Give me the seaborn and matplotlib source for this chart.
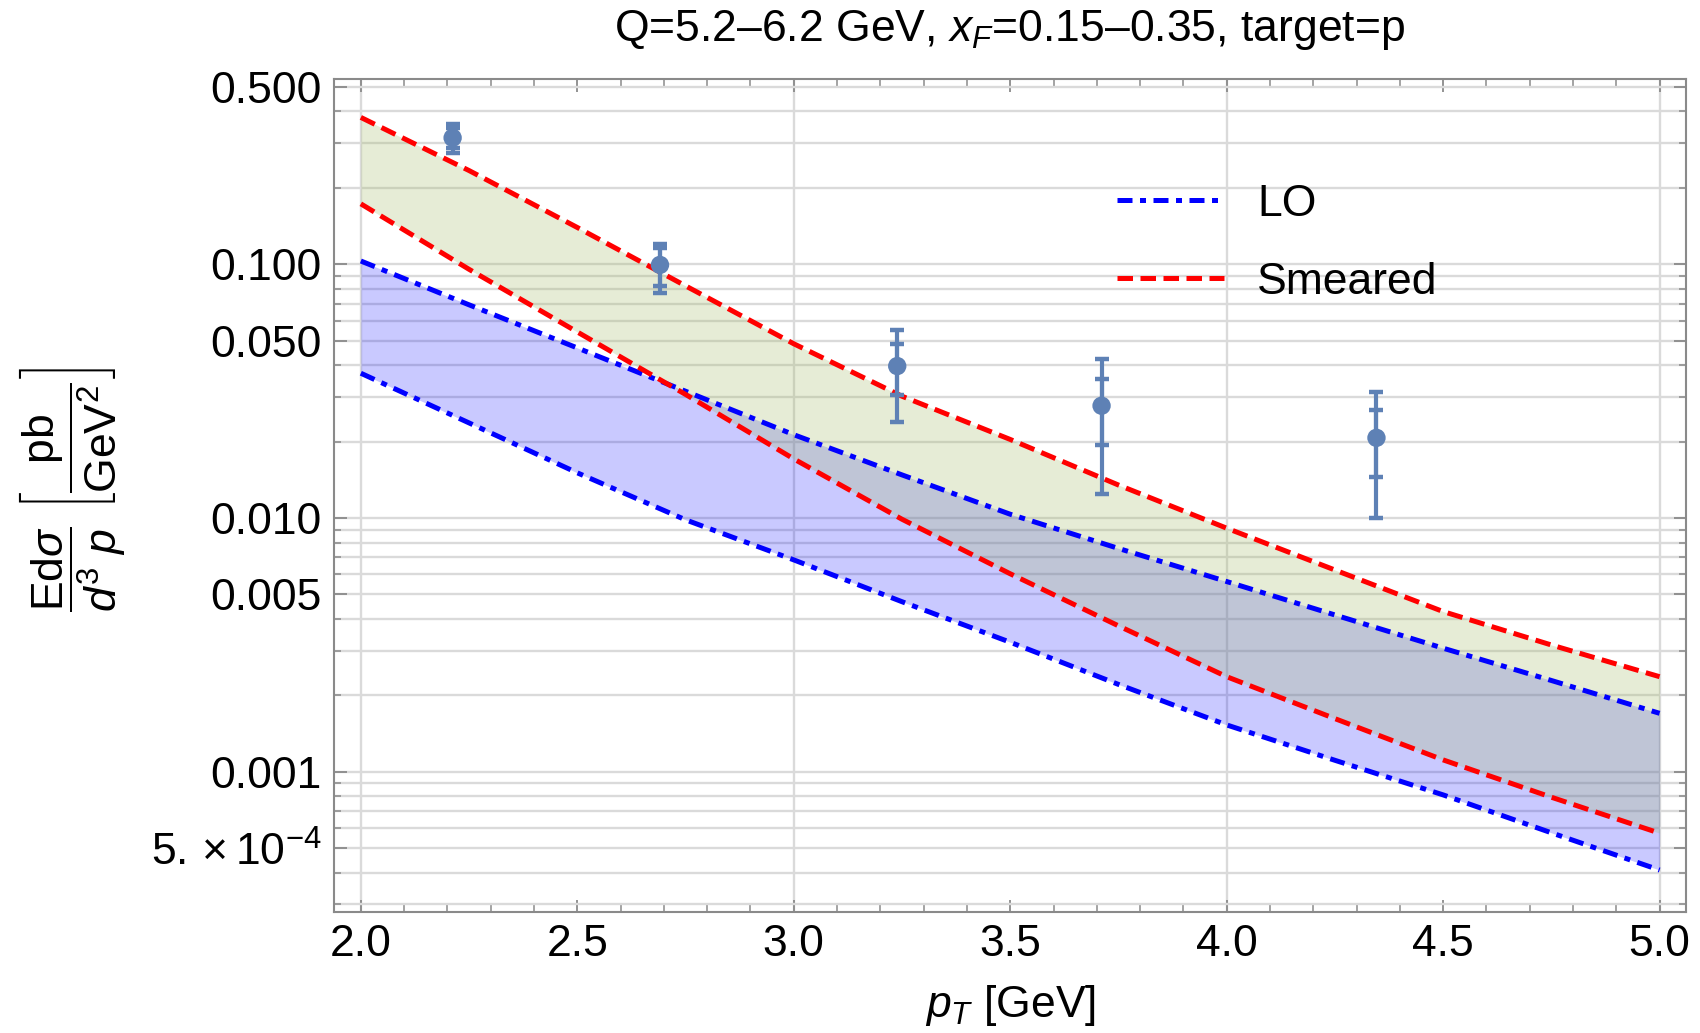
import numpy as np
import pandas as pd
import matplotlib
matplotlib.use("Agg")
import matplotlib.pyplot as plt
import seaborn as sns
from matplotlib.ticker import FixedLocator, MultipleLocator, FormatStrFormatter, NullFormatter
from matplotlib.lines import Line2D

# ---------------- data ----------------
pt = [2.0, 2.25, 2.5, 2.75, 3.0, 3.25, 3.5, 3.75, 4.0, 4.25, 4.5, 4.75, 5.0]
lo_upper = [0.1030, 0.0692, 0.0468, 0.0316, 0.0213, 0.01479, 0.01035, 0.00759,
            0.00562, 0.00415, 0.00307, 0.00229, 0.00170]
lo_lower = [0.0372, 0.0237, 0.01507, 0.00984, 0.00684, 0.00468, 0.00324, 0.00221,
            0.00153, 0.00111, 0.000811, 0.000575, 0.000410]
sm_upper = [0.379, 0.234, 0.1396, 0.0822, 0.0486, 0.0302, 0.0204, 0.01349,
            0.00912, 0.00624, 0.00428, 0.00316, 0.00237]
sm_lower = [0.173, 0.0955, 0.0541, 0.0307, 0.0171, 0.00989, 0.00603, 0.00376,
            0.00237, 0.00162, 0.001114, 0.000794, 0.000573]

data_pt = [2.212, 2.691, 3.239, 3.711, 4.346]
data_val = [0.315, 0.0994, 0.0397, 0.0277, 0.0207]
tot_hi = [0.356, 0.120, 0.0551, 0.0422, 0.0313]
tot_lo = [0.2735, 0.0773, 0.0240, 0.01245, 0.00998]
stat_hi = [0.343, 0.1156, 0.0484, 0.0353, 0.0267]
stat_lo = [0.286, 0.0821, 0.0305, 0.0194, 0.01455]

ytick_vals = [5e-4, 1e-3, 5e-3, 1e-2, 5e-2, 1e-1, 5e-1]
ytick_labels = [r"5.$\,\times$10$^{-4}$", "0.001", "0.005", "0.010", "0.050", "0.100", "0.500"]
xgrid_vals = [2.0, 3.0, 4.0, 5.0]

title = "Q=5.2\u20136.2 GeV, $x_F$=0.15\u20130.35, target=p"
xlabel = "$p_T$ [GeV]"
ylabel = r"$\dfrac{\mathrm{Ed}\sigma}{d^{3}\ p}\ \left[\dfrac{\mathrm{pb}}{\mathrm{GeV}^{2}}\right]$"

# ---------------- style ----------------
sns.set_style("ticks")
plt.rcParams["font.family"] = ["Liberation Sans", "DejaVu Sans"]
plt.rcParams["mathtext.fontset"] = "custom"
plt.rcParams["mathtext.rm"] = "Liberation Sans"
plt.rcParams["mathtext.it"] = "Liberation Sans:italic"
plt.rcParams["mathtext.bf"] = "Liberation Sans:bold"
plt.rcParams["mathtext.sf"] = "Liberation Sans"
plt.rcParams["text.color"] = "black"
plt.rcParams["axes.labelcolor"] = "black"
plt.rcParams["xtick.labelcolor"] = "black"
plt.rcParams["ytick.labelcolor"] = "black"

FS = 32
W, H = 1700, 1033
fig = plt.figure(figsize=(W / 100, H / 100), dpi=100)
ax_l, ax_r, ax_t, ax_b = 334, 1686, 79, 911.7
ax = fig.add_axes([ax_l / W, 1 - ax_b / H, (ax_r - ax_l) / W, (ax_b - ax_t) / H])

curves = pd.DataFrame({"pT": pt, "lo_upper": lo_upper, "lo_lower": lo_lower,
                       "sm_upper": sm_upper, "sm_lower": sm_lower})

grid_col = "#DADADA"
ax.set_axisbelow(True)
for xv in xgrid_vals:
    ax.axvline(xv, color=grid_col, lw=1.7, zorder=0.5)

ax.fill_between(curves["pT"], curves["lo_lower"], curves["lo_upper"],
                color=(0, 0, 1), alpha=0.21, lw=0, zorder=1)
ax.fill_between(curves["pT"], curves["sm_lower"], curves["sm_upper"],
                color=(165 / 255, 187 / 255, 106 / 255), alpha=0.27, lw=0, zorder=1.1)

lw = 3.6
dashdot = (0, (3.0, 1.5, 1.2, 1.5))
dashed = (0, (3.1, 1.5))
for col, c, ls, z in [("lo_upper", "#0000FF", dashdot, 3), ("lo_lower", "#0000FF", dashdot, 3),
                      ("sm_upper", "#FF0000", dashed, 4), ("sm_lower", "#FF0000", dashed, 4)]:
    sns.lineplot(data=curves, x="pT", y=col, color=c, lw=lw, ax=ax, zorder=z, legend=False)
    ax.lines[-1].set_linestyle(ls)

pc = "#5E81B5"
dp = pd.DataFrame({"pT": data_pt, "val": data_val})
ax.errorbar(data_pt, data_val,
            yerr=[np.array(data_val) - np.array(tot_lo), np.array(tot_hi) - np.array(data_val)],
            fmt="none", ecolor=pc, elinewidth=3.0, capsize=5, capthick=3.2, zorder=5)
ax.errorbar(data_pt, data_val,
            yerr=[np.array(data_val) - np.array(stat_lo), np.array(stat_hi) - np.array(data_val)],
            fmt="none", ecolor=pc, elinewidth=3.0, capsize=5, capthick=3.2, zorder=5)
sns.scatterplot(data=dp, x="pT", y="val", color=pc, s=175, edgecolor="none", ax=ax, zorder=6, legend=False)

ax.set_yscale("log")
ax.set_xlim(1.938, 5.061)
ax.set_ylim(2.81e-4, 0.537)

ax.xaxis.set_major_locator(MultipleLocator(0.5))
ax.xaxis.set_minor_locator(MultipleLocator(0.1))
ax.xaxis.set_major_formatter(FormatStrFormatter("%.1f"))

minor = []
for e in range(-4, 0):
    for k in range(1, 10):
        v = k * 10.0 ** e
        if 2.81e-4 <= v <= 0.537 and not any(abs(v - m) / m < 1e-6 for m in ytick_vals):
            minor.append(v)
ax.yaxis.set_major_locator(FixedLocator(ytick_vals))
ax.yaxis.set_minor_locator(FixedLocator(minor))
ax.set_yticklabels(ytick_labels)
ax.yaxis.set_minor_formatter(NullFormatter())
ax.grid(axis="y", which="both", color=grid_col, lw=1.7)
ax.grid(axis="x", which="both", visible=False)

spine_col = "#8A8A8A"
for s in ax.spines.values():
    s.set_color(spine_col)
    s.set_linewidth(1.5)
ax.tick_params(which="both", direction="in", top=True, right=True, color=spine_col,
               labelsize=FS, labelcolor="black")
ax.tick_params(which="major", length=9, width=1.3, pad=9)
ax.tick_params(which="minor", length=5, width=1.1)

ax.set_xlabel(xlabel, fontsize=FS, color="black")
ax.xaxis.set_label_coords(0.5, (ax_b - 1006) / (ax_b - ax_t))
ax.xaxis.label.set_va("center")
ax.set_ylabel(ylabel, fontsize=FS, color="black")
ax.yaxis.label.set(rotation_mode="default", va="center", ha="center")
ax.yaxis.set_label_coords((72 - ax_l) / (ax_r - ax_l), (ax_b - 490) / (ax_b - ax_t))
ax.set_title(title, fontsize=FS, y=(ax_b - 30) / (ax_b - ax_t), va="center", pad=0, color="black")

handles = [Line2D([], [], color="#0000FF", lw=lw, ls=dashdot),
           Line2D([], [], color="#FF0000", lw=lw, ls=dashed)]
leg = ax.legend(handles, ["LO", "Smeared"], loc="upper left", frameon=False, fontsize=FS,
                bbox_to_anchor=(1117 / W, 1 - 184 / H), bbox_transform=fig.transFigure,
                borderpad=0, borderaxespad=0, handlelength=2.4, handletextpad=0.75,
                labelspacing=0.83)
for t in leg.get_texts():
    t.set_color("black")

fig.savefig("out.png", dpi=100)
